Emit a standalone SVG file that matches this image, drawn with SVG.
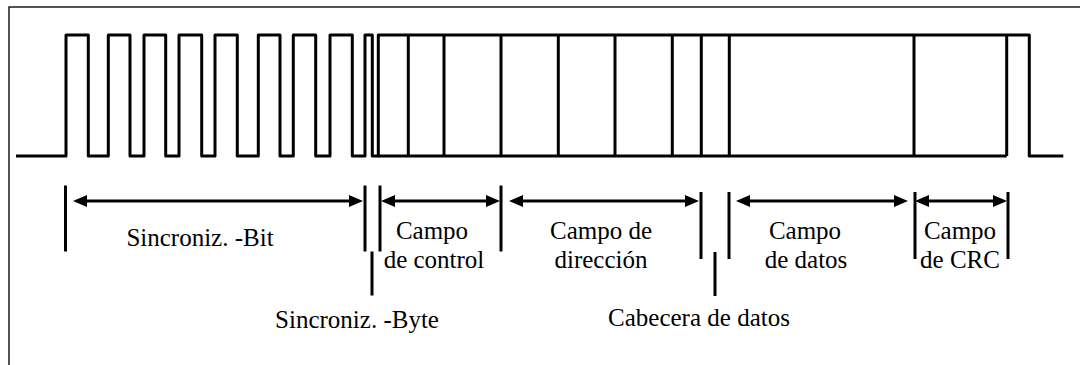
<svg xmlns="http://www.w3.org/2000/svg" width="1080" height="365" viewBox="0 0 1080 365">
  <style>
    .frame { fill: none; stroke: #1a1a1a; stroke-width: 1.5; }
    .wave { fill: none; stroke: #000; stroke-width: 3; stroke-linejoin: round; }
    .cell { stroke: #000; stroke-width: 3; }
    .tick { stroke: #000; stroke-width: 3; }
    .dim { stroke: #000; stroke-width: 3; marker-start: url(#arrow); marker-end: url(#arrow); }
    .lbl { font-size: 25px; fill: #000; text-anchor: middle; }
  </style>
  <defs>
    <marker id="arrow" markerUnits="userSpaceOnUse" markerWidth="15" markerHeight="13" refX="10" refY="6" orient="auto-start-reverse">
      <path d="M0,0 L14,6 L0,12 z" fill="#000"/>
    </marker>
  </defs>

  <rect width="1080" height="365" fill="#fff"/>

  <!-- open frame: top and left edges only -->
  <path class="frame" d="M9,365 V7 H1080"/>

  <!-- serial signal -->
  <g id="signal">
    <path class="wave" d="M16,156 H66 V35 H88.3 V156 H108.3 V35 H130 V156 H144 V35 H165.7 V156 H179 V35 H201.7 V156 H215 V35 H237.3 V156 H258.3 V35 H280 V156 H293.3 V35 H315.7 V156 H330 V35 H352.3 V156 H365 V35 H372.3 V156 H378.3 V35 H1029.3 V156 H1063.3"/>
    <path class="wave" d="M378.3,156 H1006.7"/>
    <g class="cell">
      <line x1="408.3" y1="35" x2="408.3" y2="156"/>
      <line x1="444" y1="35" x2="444" y2="156"/>
      <line x1="501" y1="35" x2="501" y2="156"/>
      <line x1="558.3" y1="35" x2="558.3" y2="156"/>
      <line x1="615" y1="35" x2="615" y2="156"/>
      <line x1="672.3" y1="35" x2="672.3" y2="156"/>
      <line x1="701.3" y1="35" x2="701.3" y2="156"/>
      <line x1="729.3" y1="35" x2="729.3" y2="156"/>
      <line x1="914" y1="35" x2="914" y2="156"/>
      <line x1="1006.7" y1="35" x2="1006.7" y2="156"/>
    </g>
  </g>

  <!-- field boundary ticks -->
  <g id="ticks" class="tick">
    <line x1="65.5" y1="185.5" x2="65.5" y2="251.5"/>
    <line x1="365" y1="185.5" x2="365" y2="251.5"/>
    <line x1="380" y1="185.5" x2="380" y2="251.5"/>
    <line x1="501" y1="185.5" x2="501" y2="251.5"/>
    <line x1="372" y1="251.5" x2="372" y2="295.5"/>
    <line x1="701" y1="192" x2="701" y2="259"/>
    <line x1="715" y1="252" x2="715" y2="296"/>
    <line x1="729" y1="192" x2="729" y2="259"/>
    <line x1="915" y1="192" x2="915" y2="259"/>
    <line x1="1008" y1="192" x2="1008" y2="259"/>
  </g>

  <!-- dimension arrows -->
  <g id="connectors">
    <line class="dim" x1="77" y1="201" x2="359" y2="201"/>
    <line class="dim" x1="385" y1="201" x2="496" y2="201"/>
    <line class="dim" x1="513" y1="201" x2="695" y2="201"/>
    <line class="dim" x1="740" y1="201" x2="904" y2="201"/>
    <line class="dim" x1="919" y1="201" x2="1003" y2="201"/>
  </g>

  <g font-family="'Liberation Serif', 'Times New Roman', 'DejaVu Serif', serif">
    <g id="sync-bit">
      <text class="lbl" x="200" y="246">Sincroniz. -Bit</text>
    </g>
    <g id="sync-byte">
      <text class="lbl" x="357" y="327.5">Sincroniz. -Byte</text>
    </g>
    <g id="control-field">
      <text class="lbl" x="432" y="239">Campo</text>
      <text class="lbl" x="434" y="268">de control</text>
    </g>
    <g id="address-field">
      <text class="lbl" x="601" y="239">Campo de</text>
      <text class="lbl" x="601" y="268">dirección</text>
    </g>
    <g id="data-header">
      <text class="lbl" x="699" y="325.5">Cabecera de datos</text>
    </g>
    <g id="data-field">
      <text class="lbl" x="805" y="239">Campo</text>
      <text class="lbl" x="806" y="268">de datos</text>
    </g>
    <g id="crc-field">
      <text class="lbl" x="960" y="239">Campo</text>
      <text class="lbl" x="960" y="268">de CRC</text>
    </g>
  </g>
</svg>
